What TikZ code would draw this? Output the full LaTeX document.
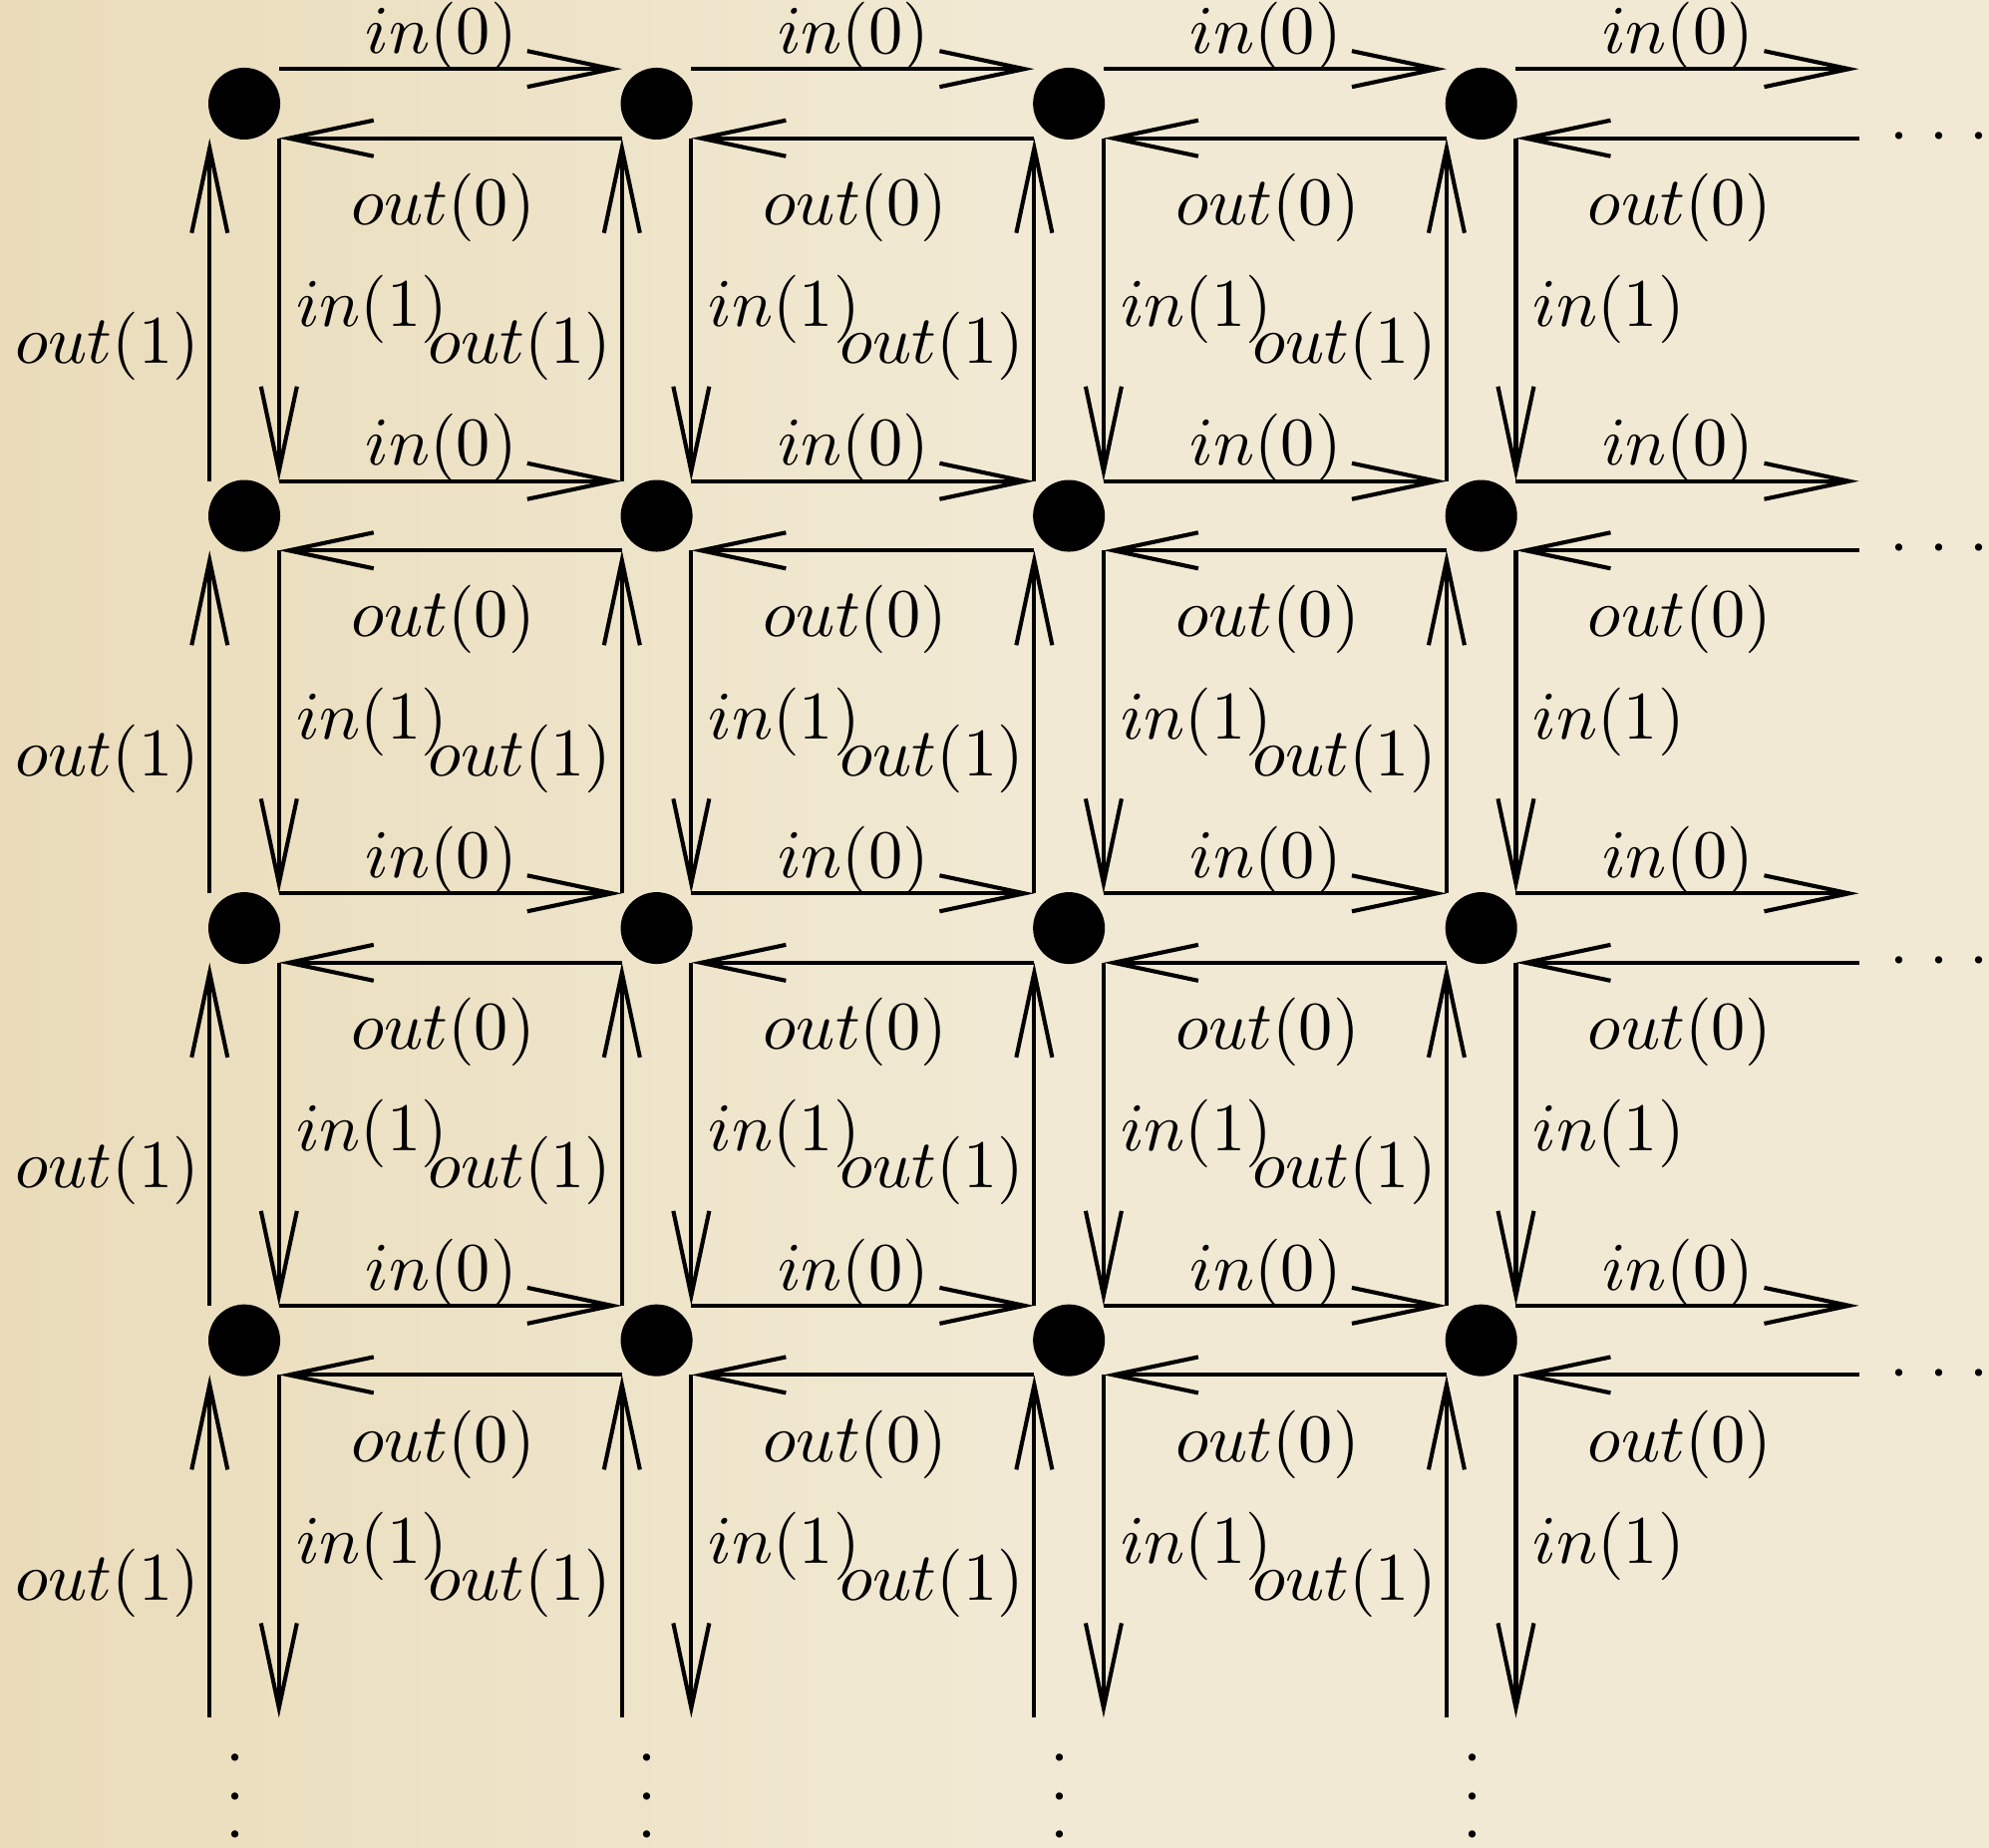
\documentclass[tikz,border=0pt]{standalone}
\usepackage{amsmath}
\usepackage{xcolor}
\usetikzlibrary{arrows.meta,calc,positioning}
\definecolor{parchment}{RGB}{241,233,211}
\definecolor{parchtan}{RGB}{234,220,186}
\newcommand{\colvdots}{\vbox{\baselineskip=5.6pt\lineskiplimit=0pt\hbox{$\cdot$}\hbox{$\cdot$}\hbox{$\cdot$}}}
\newcommand{\rowhdots}{$\cdot$\hspace{3.07pt}$\cdot$\hspace{3.07pt}$\cdot$}

\begin{document}
\begin{tikzpicture}[scale=0.94,>={Straight Barb[length=4.37mm,width=1.85mm]},line width=0.6pt,
  dot/.style={circle,fill=black,inner sep=0pt,minimum size=3.7mm},
  lbl/.style={inner sep=0pt}]
\useasboundingbox[left color=parchtan,right color=parchment,middle color=parchment] (-1.339,0.568) rectangle (9.563,-9.563);
\def\g{2.26}\def\d{0.19}
% grid points and the corners round them (row and column 4 are not drawn)
\foreach \i in {0,...,4} \foreach \j in {0,...,4} {
  \coordinate (p-\i-\j) at (\i*\g,-\j*\g);
  \coordinate (ne-\i-\j) at ($(p-\i-\j)+(\d,\d)$);
  \coordinate (nw-\i-\j) at ($(p-\i-\j)+(-\d,\d)$);
  \coordinate (se-\i-\j) at ($(p-\i-\j)+(\d,-\d)$);
  \coordinate (sw-\i-\j) at ($(p-\i-\j)+(-\d,-\d)$);
}
\foreach \i [count=\ni from 1] in {0,...,3} \foreach \j [count=\nj from 1] in {0,...,3} {
  \node[dot] (v-\i-\j) at (p-\i-\j) {};
  \draw[->] (ne-\i-\j) -- (nw-\ni-\j);
  \draw[->] (sw-\ni-\j) -- (se-\i-\j);
  \draw[->] (se-\i-\j) -- (ne-\i-\nj);
  \draw[->] (nw-\i-\nj) -- (sw-\i-\j);
  \node[lbl] (in0-\i-\j) at ($(p-\i-\j)+(1.08,0.37)$) {$in(0)$};
  \node[lbl] (out0-\i-\j) at ($(p-\i-\j)+(1.09,-0.57)$) {$out(0)$};
  \node[lbl] (in1-\i-\j) at ($(p-\i-\j)+(0.70,-1.13)$) {$in(1)$};
  \node[lbl] (out1-\i-\j) at ($(p-\i-\j)+(-0.75,-1.33)$) {$out(1)$};
}
% the grid goes on
\foreach \j in {0,...,3}
  \node[lbl,anchor=base] (hd-\j) at ($(p-4-\j)+(0.25,-0.27)$) {\rowhdots};
\foreach \i in {0,...,3}
  \node[lbl] (vd-\i) at ($(p-\i-4)+(-0.05,-0.25)$) {\colvdots};
\end{tikzpicture}
\end{document}
